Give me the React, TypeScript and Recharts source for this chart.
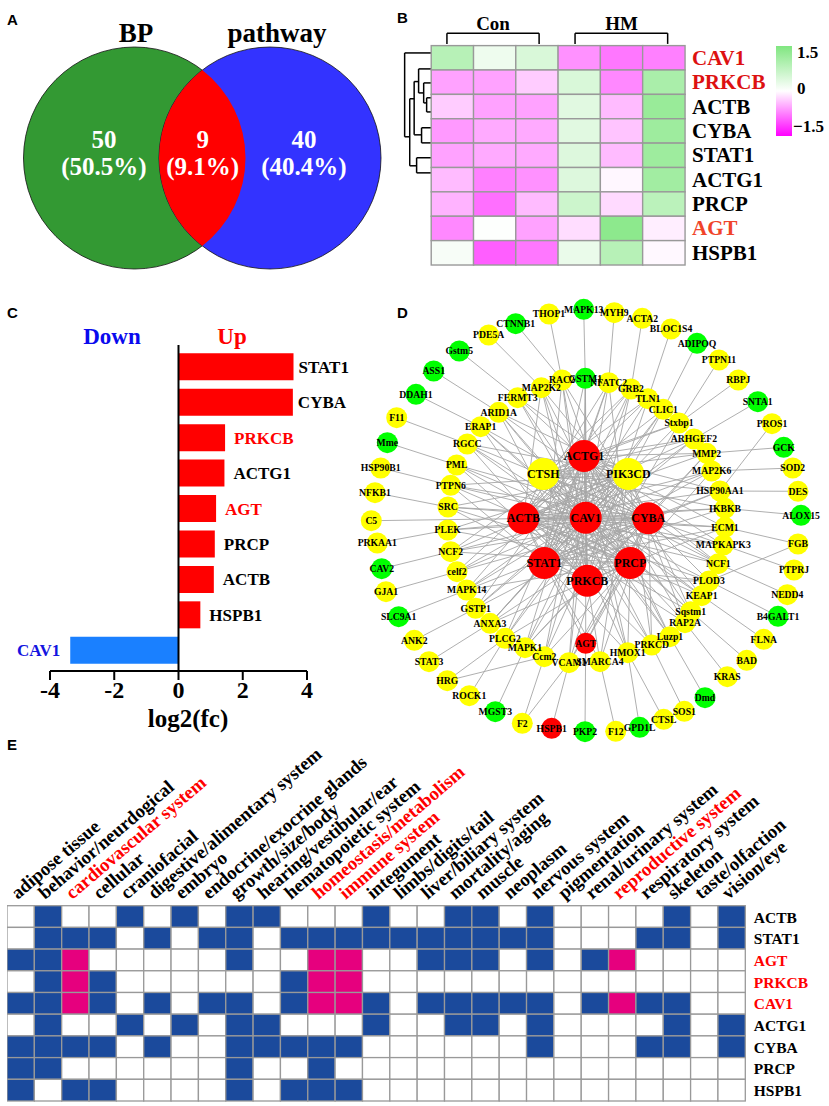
import React from 'react';
import { BarChart, Bar, Cell, LabelList, ScatterChart, Scatter, XAxis, YAxis, ReferenceLine } from 'recharts';

const SERIF = '"Liberation Serif", serif';
const SANS = '"Liberation Sans", sans-serif';

// A: venn
const vennSets = ['BP', 'pathway'];
const vennCounts = [50, 9, 40];
const vennShares = ['(50.5%)', '(9.1%)', '(40.4%)'];

// B: heatmap
const heatGenes = ['CAV1', 'PRKCB', 'ACTB', 'CYBA', 'STAT1', 'ACTG1', 'PRCP', 'AGT', 'HSPB1'];
const heatValues = [
  [0.85, 0.2, 0.45, -0.65, -0.8, -0.75],
  [-0.55, -0.55, -0.3, 0.45, -0.7, 1.0],
  [-0.3, -0.55, -0.55, 0.35, -0.4, 1.2],
  [-0.6, -0.5, -0.5, 0.35, -0.35, 1.15],
  [-0.55, -0.5, -0.5, 0.4, -0.4, 1.15],
  [-0.4, -0.75, -0.65, 0.4, -0.05, 1.1],
  [-0.45, -0.85, -0.4, 0.6, -0.22, 0.8],
  [-0.7, 0.02, -0.55, -0.2, 1.35, -0.1],
  [0.1, -0.95, -0.8, 0.25, 0.85, -0.04],
];
const heatGroups = ['Con', 'HM'];
const heatRed = ['CAV1', 'PRKCB'];
// col1, row1, col2, row2
const dendroSegments = [
  [-0.63, 0.3, 0, 0.3], [-0.63, 0.3, -0.63, 3.74], [-0.63, 3.74, -0.51, 3.74],
  [-0.51, 2.18, -0.51, 4.93], [-0.51, 2.18, -0.405, 2.18], [-0.405, 1.475, -0.405, 3.66],
  [-0.405, 3.66, -0.23, 3.66], [-0.23, 3.37, -0.23, 3.99], [-0.23, 3.37, 0, 3.37], [-0.23, 3.99, 0, 3.99],
  [-0.405, 1.475, -0.3, 1.475], [-0.3, 0.955, -0.3, 1.94], [-0.3, 0.955, 0, 0.955], [-0.3, 1.94, -0.18, 1.94],
  [-0.18, 1.53, -0.18, 2.35], [-0.18, 1.53, 0, 1.53], [-0.18, 2.35, -0.11, 2.35], [-0.11, 2.14, -0.11, 2.72],
  [-0.11, 2.14, 0, 2.14], [-0.11, 2.72, 0, 2.72], [-0.51, 4.93, -0.347, 4.93], [-0.347, 4.6, -0.347, 5.22],
  [-0.347, 4.6, 0, 4.6], [-0.347, 5.22, 0, 5.22],
  [0.37, -0.51, 2.55, -0.51], [0.37, -0.51, 0.37, -0.07], [2.55, -0.51, 2.55, -0.07],
  [3.4, -0.51, 5.59, -0.51], [3.4, -0.51, 3.4, -0.07], [5.59, -0.51, 5.59, -0.07],
];

// C: bars
const fcGenes = ['STAT1', 'CYBA', 'PRKCB', 'ACTG1', 'AGT', 'PRCP', 'ACTB', 'HSPB1', 'CAV1'];
const fcValues = [3.58, 3.56, 1.45, 1.43, 1.17, 1.13, 1.1, 0.68, -3.37];
const fcTicks = [-4, -2, 0, 2, 4];

// D: network, node places
const hubNodes: [string, number, number, string][] = [
  ['ACTG1', 584, 456, 'r'], ['CTSH', 543.3, 474, 'y'], ['PIK3CD', 628.3, 474, 'y'], ['ACTB', 523.3, 518.3, 'r'],
  ['CAV1', 585.7, 517.7, 'r'], ['CYBA', 648.3, 518.3, 'r'], ['STAT1', 544.3, 563, 'r'], ['PRCP', 630.3, 563, 'r'],
  ['PRKCB', 587.3, 580.7, 'r'],
];
const innerNodes: [string, number, number, string][] = [
  ['GSTM1', 585.3, 378.3, 'g'], ['NFATC2', 608.7, 382.7, 'y'], ['GRB2', 631, 389, 'y'], ['TLN1', 648, 398.7, 'y'],
  ['CLIC1', 663.3, 409.3, 'y'], ['Stxbp1', 679, 423, 'y'], ['ARHGEF2', 694, 439, 'y'], ['MMP2', 706.7, 453.3, 'y'],
  ['MAP2K6', 711.7, 471, 'y'], ['HSP90AA1', 720, 491, 'y'], ['IKBKB', 725, 508.3, 'y'], ['ECM1', 725, 527.3, 'y'],
  ['MAPKAPK3', 723.3, 545, 'y'], ['NCF1', 718.3, 563.7, 'y'], ['PLOD3', 709, 581, 'y'], ['KEAP1', 701.7, 595.7, 'y'],
  ['Sqstm1', 690.7, 611.7, 'y'], ['RAP2A', 685, 622.7, 'y'], ['Luzp1', 670, 636.7, 'y'], ['PRKCD', 651.7, 645, 'y'],
  ['HMOX1', 627.7, 652.7, 'y'], ['SMARCA4', 600, 661.7, 'y'], ['VCAM1', 569, 662.7, 'y'], ['AGT', 585.7, 643.3, 'r'],
  ['Ccm2', 544.3, 656.7, 'y'], ['MAPK1', 525, 647.7, 'y'], ['PLCG2', 505, 638.3, 'y'], ['ANXA3', 490, 623.3, 'y'],
  ['GSTP1', 475.7, 608.3, 'y'], ['MAPK14', 466.7, 590, 'y'], ['celf2', 457, 571.7, 'y'], ['NCF2', 450.7, 551.7, 'y'],
  ['PLEK', 447.7, 530, 'y'], ['SRC', 448, 507, 'y'], ['PTPN6', 450.7, 485.3, 'y'], ['PML', 456.7, 465, 'y'],
  ['RGCC', 467.3, 444, 'y'], ['ERAP1', 480.7, 426.7, 'y'], ['ARID1A', 498.7, 412.3, 'y'], ['FERMT3', 517.7, 397.7, 'y'],
  ['MAP2K2', 541.3, 387.7, 'y'], ['RAC2', 562, 380, 'y'],
];
const outerNodes: [string, number, number, string][] = [
  ['MAPK13', 583.7, 309.3, 'g'], ['MYH9', 614.3, 312.7, 'y'], ['ACTA2', 642.3, 318.3, 'y'], ['BLOC1S4', 671, 329, 'y'],
  ['ADIPOQ', 697, 343.3, 'g'], ['PTPN11', 719, 360, 'y'], ['RBPJ', 738.3, 380, 'y'], ['SNTA1', 757.7, 401.7, 'g'],
  ['PROS1', 772, 423.7, 'y'], ['GCK', 783.7, 447.3, 'g'], ['SOD2', 792.7, 468, 'y'], ['DES', 798, 491.3, 'y'],
  ['ALOX15', 801, 515.3, 'g'], ['FGB', 798, 544, 'y'], ['PTPRJ', 794, 570, 'y'], ['NEDD4', 787.3, 594.7, 'y'],
  ['B4GALT1', 778, 616.3, 'g'], ['FLNA', 763.7, 639.3, 'y'], ['BAD', 746.7, 660.3, 'y'], ['KRAS', 727.3, 676.7, 'y'],
  ['Dmd', 705, 697.7, 'g'], ['SOS1', 684.3, 711.3, 'y'], ['CTSL', 663.7, 719.3, 'y'], ['GPD1L', 639.7, 727.3, 'g'],
  ['F12', 615.7, 731.3, 'y'], ['PKP2', 585, 731.7, 'g'], ['HSPB1', 551.7, 728.3, 'r'], ['F2', 522.3, 723.3, 'y'],
  ['MGST3', 495.3, 711.7, 'g'], ['ROCK1', 469.3, 695.7, 'y'], ['HRG', 447.3, 680.7, 'y'], ['STAT3', 429, 661.7, 'y'],
  ['ANK2', 414.3, 640.3, 'y'], ['SLC9A1', 398.7, 616.7, 'g'], ['GJA1', 386, 591.7, 'y'], ['CAV2', 381.7, 568.7, 'g'],
  ['PRKAA1', 377.3, 543, 'y'], ['C5', 371.3, 520.7, 'y'], ['NFKB1', 375, 492.7, 'y'], ['HSP90B1', 380.7, 468, 'y'],
  ['Mme', 387.3, 442.7, 'g'], ['F11', 396.7, 417.7, 'y'], ['DDAH1', 416, 394.3, 'g'], ['ASS1', 433.7, 371, 'g'],
  ['Gstm5', 459.3, 351, 'g'], ['PDE5A', 488.7, 335, 'y'], ['CTNNB1', 515.7, 323.7, 'g'], ['THOP1', 549, 314, 'y'],
];
const outerLinks = [
  'MAPK13 GSTM1', 'MYH9 NFATC2', 'ACTA2 GRB2', 'BLOC1S4 TLN1', 'ADIPOQ CLIC1', 'PTPN11 Stxbp1', 'RBPJ Stxbp1',
  'SNTA1 ARHGEF2', 'PROS1 HSP90AA1', 'GCK MMP2', 'SOD2 MAP2K6', 'DES HSP90AA1', 'ALOX15 IKBKB', 'FGB PLOD3', 'FGB ECM1',
  'PTPRJ MAPKAPK3', 'NEDD4 NCF1', 'B4GALT1 PLOD3', 'FLNA KEAP1', 'BAD Sqstm1', 'KRAS RAP2A', 'Dmd Luzp1', 'SOS1 PRKCD',
  'CTSL HMOX1', 'GPD1L HMOX1', 'F12 SMARCA4', 'PKP2 AGT', 'HSPB1 VCAM1', 'F2 Ccm2', 'F2 VCAM1', 'MGST3 MAPK1',
  'ROCK1 PLCG2', 'HRG PLCG2', 'HRG Ccm2', 'STAT3 ANXA3', 'ANK2 GSTP1', 'SLC9A1 MAPK14', 'GJA1 celf2', 'CAV2 NCF2',
  'PRKAA1 PLEK', 'C5 CAV1', 'NFKB1 SRC', 'HSP90B1 PTPN6', 'Mme PML', 'F11 RGCC', 'DDAH1 ERAP1', 'ASS1 ARID1A',
  'Gstm5 FERMT3', 'PDE5A MAP2K2', 'CTNNB1 RAC2', 'THOP1 RAC2',
];
const innerLinks = [
  'GSTM1 ACTG1 CAV1 PRKCB STAT1', 'NFATC2 ACTG1 ACTB CAV1 STAT1 PRCP', 'GRB2 ACTB CTSH STAT1 CAV1 PRKCB', 'TLN1 CTSH ACTB PRKCB STAT1',
  'CLIC1 PIK3CD CAV1 STAT1 ACTB', 'Stxbp1 CTSH ACTG1 CAV1 PRKCB', 'ARHGEF2 ACTG1 CTSH CAV1 STAT1 ACTB', 'MMP2 ACTG1 ACTB CYBA PRKCB CTSH',
  'MAP2K6 CAV1 ACTB PRCP STAT1', 'HSP90AA1 ACTB CTSH CYBA STAT1 ACTG1', 'IKBKB CAV1 ACTB CTSH STAT1', 'ECM1 CAV1 ACTB STAT1 PRCP ACTG1',
  'MAPKAPK3 CYBA ACTB ACTG1 CAV1', 'NCF1 CAV1 CYBA ACTG1 CTSH ACTB', 'PLOD3 ACTG1 ACTB PRKCB STAT1 CAV1', 'KEAP1 CAV1 CTSH ACTB ACTG1',
  'Sqstm1 CTSH ACTG1 CYBA CAV1 ACTB', 'RAP2A ACTB CAV1 PIK3CD ACTG1', 'Luzp1 CAV1 ACTG1 PRCP CTSH', 'PRKCD ACTB PIK3CD CTSH CYBA CAV1',
  'HMOX1 ACTG1 CAV1 PRCP STAT1 CTSH', 'SMARCA4 ACTB CYBA PIK3CD PRKCB', 'VCAM1 PIK3CD ACTG1 CYBA PRCP CAV1', 'AGT CAV1 CYBA STAT1 PRCP',
  'Ccm2 ACTG1 PIK3CD CAV1 PRCP', 'MAPK1 CYBA ACTG1 PRKCB PIK3CD CAV1', 'PLCG2 PIK3CD CAV1 ACTG1 PRCP', 'ANXA3 CYBA PRCP STAT1 CAV1 PIK3CD',
  'GSTP1 CYBA CAV1 PIK3CD ACTG1', 'MAPK14 ACTG1 PIK3CD PRCP CAV1 CYBA', 'celf2 CYBA CAV1 ACTG1 PIK3CD', 'NCF2 PRCP CYBA CAV1 ACTG1 PIK3CD',
  'PLEK CAV1 PIK3CD CYBA PRCP', 'SRC CAV1 CYBA PRKCB PRCP PIK3CD', 'PTPN6 CAV1 PRCP PIK3CD STAT1 CYBA', 'PML CYBA PRKCB CAV1 PRCP',
  'RGCC CAV1 PRCP PRKCB CYBA PIK3CD', 'ERAP1 CYBA PRKCB PRCP CAV1', 'ARID1A CYBA PRCP PRKCB CAV1 PIK3CD', 'FERMT3 PIK3CD PRCP CYBA CAV1',
  'MAP2K2 PRKCB CYBA PRCP ACTB CAV1', 'RAC2 PRCP STAT1 CAV1 PRKCB CYBA',
];
const hubLinks = [
  'ACTG1 CTSH', 'ACTG1 PIK3CD', 'ACTG1 ACTB', 'ACTG1 CAV1', 'ACTG1 CYBA', 'ACTG1 STAT1', 'ACTG1 PRCP', 'ACTG1 PRKCB',
  'CTSH PIK3CD', 'CTSH ACTB', 'CTSH CAV1', 'CTSH CYBA', 'CTSH PRCP', 'CTSH PRKCB', 'PIK3CD CAV1', 'PIK3CD CYBA',
  'PIK3CD ACTB', 'PIK3CD STAT1', 'ACTB CAV1', 'ACTB CYBA', 'ACTB STAT1', 'ACTB PRCP', 'ACTB PRKCB', 'CAV1 CYBA',
  'CAV1 STAT1', 'CAV1 PRCP', 'CAV1 PRKCB', 'CYBA STAT1', 'CYBA PRCP', 'CYBA PRKCB', 'STAT1 PRCP', 'STAT1 PRKCB', 'PRCP PRKCB',
];

// E: phenotype matrix, 0 none, 1 hit, 2 hit in a highlighted system
const systems = [
  'adipose tissue', 'behavior/neurdogical', 'cardiovascular system', 'cellular', 'craniofacial',
  'digestive/alimentary system', 'embryo', 'endocrine/exocrine glands', 'growth/size/body', 'hearing/vestibular/ear',
  'hematopoietic system', 'homeostasis/metabolism', 'immune system', 'integument', 'limbs/digits/tail',
  'liver/biliary system', 'mortality/aging', 'muscle', 'neoplasm', 'nervous system', 'pigmentation',
  'renal/urinary system', 'reproductive system', 'respiratory system', 'skeleton', 'taste/olfaction', 'vision/eye',
];
const systemsRed = ['cardiovascular system', 'homeostasis/metabolism', 'immune system', 'reproductive system'];
const matrixGenes = ['ACTB', 'STAT1', 'AGT', 'PRKCB', 'CAV1', 'ACTG1', 'CYBA', 'PRCP', 'HSPB1'];
const matrixRed = ['AGT', 'PRKCB', 'CAV1'];
const matrixValues = [
  [0, 1, 0, 0, 1, 0, 1, 0, 1, 1, 0, 0, 0, 1, 0, 0, 1, 1, 0, 1, 0, 0, 0, 0, 1, 0, 1],
  [0, 1, 1, 1, 0, 1, 0, 1, 1, 0, 1, 1, 1, 1, 1, 1, 1, 1, 1, 1, 0, 0, 0, 1, 1, 0, 1],
  [1, 1, 2, 0, 0, 0, 0, 0, 1, 0, 0, 2, 2, 0, 0, 1, 1, 1, 0, 1, 0, 1, 2, 0, 0, 0, 0],
  [0, 1, 2, 1, 0, 0, 0, 0, 0, 0, 1, 2, 2, 0, 0, 0, 0, 0, 0, 0, 0, 0, 0, 0, 0, 0, 0],
  [1, 1, 2, 1, 0, 1, 0, 1, 1, 0, 1, 2, 2, 1, 0, 1, 1, 1, 1, 1, 0, 1, 2, 1, 1, 0, 0],
  [0, 1, 0, 0, 1, 0, 1, 0, 1, 1, 0, 0, 0, 1, 0, 0, 1, 1, 0, 1, 0, 0, 0, 0, 1, 0, 1],
  [1, 1, 1, 1, 0, 1, 0, 0, 1, 1, 1, 1, 1, 0, 0, 0, 0, 0, 0, 1, 0, 0, 0, 1, 1, 0, 1],
  [1, 1, 0, 0, 0, 0, 0, 0, 1, 0, 0, 1, 0, 0, 0, 0, 0, 0, 0, 0, 0, 0, 0, 0, 0, 0, 0],
  [1, 0, 1, 1, 0, 0, 0, 0, 1, 0, 1, 1, 1, 0, 0, 0, 0, 0, 0, 0, 0, 0, 0, 0, 0, 0, 0],
];

const RED = '#ff0000';
const BLUE_TXT = '#1414e0';
const KIND_COLORS: Record<string, string> = { r: '#ff0000', y: '#ffff00', g: '#00ff00' };
const MATRIX_COLORS = ['#ffffff', '#1b4a9c', '#e6007e'];

const heatColor = (v: number) => {
  const t = Math.min(Math.abs(v) / 1.5, 1);
  const mix = (a: number, b: number) => Math.round(a + (b - a) * t);
  return v >= 0
    ? `rgb(${mix(255, 128)},${mix(255, 230)},${mix(255, 128)})`
    : `rgb(255,${mix(255, 0)},255)`;
};

const Txt = ({ x, y, size, color = '#000', family = SERIF, anchor = 'left', children }: any) => (
  <div
    style={{
      position: 'absolute',
      left: anchor === 'center' ? x - 100 : x,
      width: anchor === 'center' ? 200 : undefined,
      textAlign: anchor === 'center' ? 'center' : 'left',
      top: y - size * 0.6,
      fontSize: size,
      lineHeight: `${size * 1.2}px`,
      fontWeight: 'bold',
      fontFamily: family,
      color,
      whiteSpace: 'nowrap',
    }}
  >
    {children}
  </div>
);

const Venn = () => {
  const r = 111;
  const unit = 135.5;
  const h = Math.sqrt(r * r - (unit / 2) * (unit / 2));
  const circles = vennSets.map((name, i) => ({ name, pos: i, v: 0 }));
  const fills = ['#339933', '#3333ff'];
  return (
    <div style={{ position: 'absolute', left: 0, top: 0 }}>
      <ScatterChart width={400} height={280} margin={{ top: 0, right: 0, bottom: 0, left: 0 }}>
        <XAxis type="number" dataKey="pos" domain={[-0.9926, 1.9594]} hide />
        <YAxis type="number" dataKey="v" domain={[-1, 1]} hide />
        <Scatter
          data={circles}
          isAnimationActive={false}
          shape={(p: any) => (
            <circle cx={p.cx} cy={158} r={r} fill={fills[p.payload.pos]} stroke="#111" strokeWidth={0.8} />
          )}
        />
        <Scatter
          data={[{ pos: 0.5, v: 0 }]}
          isAnimationActive={false}
          shape={(p: any) => (
            <path
              d={`M${p.cx} ${158 - h}A${r} ${r} 0 0 1 ${p.cx} ${158 + h}A${r} ${r} 0 0 1 ${p.cx} ${158 - h}Z`}
              fill={RED}
            />
          )}
        />
      </ScatterChart>
      <Txt x={136} y={33} size={27} anchor="center">{vennSets[0]}</Txt>
      <Txt x={277} y={33} size={27} anchor="center">{vennSets[1]}</Txt>
      {[104, 202.7, 304].map((x, i) => (
        <React.Fragment key={i}>
          <Txt x={x} y={140} size={25} color="#fff" anchor="center">{vennCounts[i]}</Txt>
          <Txt x={x} y={167} size={25} color="#fff" anchor="center">{vennShares[i]}</Txt>
        </React.Fragment>
      ))}
    </div>
  );
};

const Heatmap = () => {
  const cells = heatValues.flatMap((row, r) => row.map((v, c) => ({ col: c + 0.5, row: r + 0.5, v })));
  const CW = 42.43;
  const CH = 24.4;
  return (
    <div style={{ position: 'absolute', left: 389.3, top: 0 }}>
      <ScatterChart width={439.7} height={280} margin={{ top: 0, right: 0, bottom: 15, left: 0 }}>
        <XAxis
          type="number"
          dataKey="col"
          orientation="top"
          height={31}
          domain={[-1, 6]}
          ticks={[1.46, 4.5]}
          interval={0}
          axisLine={false}
          tickLine={false}
          tickSize={0}
          tick={(p: any) => (
            <text x={p.x} y={30} textAnchor="middle" fontFamily={SERIF} fontWeight="bold" fontSize={19} fill="#000">
              {heatGroups[p.index]}
            </text>
          )}
        />
        <YAxis
          type="number"
          dataKey="row"
          orientation="right"
          width={143.7}
          domain={[-0.6, 9]}
          reversed
          ticks={heatGenes.map((_, i) => i + 0.5)}
          interval={0}
          axisLine={false}
          tickLine={false}
          tickSize={0}
          tick={(p: any) => {
            const g = heatGenes[p.index];
            const fill = heatRed.includes(g) ? '#dd1111' : g === 'AGT' ? '#f0442a' : '#000';
            return (
              <text x={p.x + 5} y={p.y + 7} fontFamily={SERIF} fontWeight="bold" fontSize={21} fill={fill}>
                {g}
              </text>
            );
          }}
        />
        {dendroSegments.map((s, i) => (
          <ReferenceLine
            key={i}
            segment={[{ x: s[0], y: s[1] }, { x: s[2], y: s[3] }]}
            stroke="#000"
            strokeWidth={1.5}
            ifOverflow="visible"
          />
        ))}
        <Scatter
          data={cells}
          isAnimationActive={false}
          shape={(p: any) => (
            <rect
              x={p.cx - CW / 2}
              y={p.cy - CH / 2}
              width={CW}
              height={CH}
              fill={heatColor(p.payload.v)}
              stroke="#999"
              strokeWidth={1.4}
            />
          )}
        />
      </ScatterChart>
    </div>
  );
};

const FoldBars = () => {
  const data = fcGenes.map((gene, i) => ({ gene, fc: fcValues[i] }));
  return (
    <div style={{ position: 'absolute', left: 0, top: 300 }}>
      <BarChart
        layout="vertical"
        width={400}
        height={440}
        data={data}
        margin={{ top: 45, right: 93, bottom: 0, left: 50 }}
        barSize={27}
      >
        <XAxis
          type="number"
          domain={[-4, 4]}
          ticks={fcTicks}
          interval={0}
          height={69}
          tickSize={9}
          tickMargin={1}
          stroke="#000"
          strokeWidth={2}
          tick={{ fontFamily: SERIF, fontWeight: 'bold', fontSize: 24, fill: '#000' }}
        />
        <YAxis type="category" dataKey="gene" hide padding={{ top: 4.3, bottom: 2.8 }} />
        <Bar dataKey="fc" isAnimationActive={false}>
          {data.map((d) => (
            <Cell key={d.gene} fill={d.fc < 0 ? '#1a80ff' : RED} />
          ))}
          <LabelList
            dataKey="gene"
            content={(p: any) => {
              const neg = p.width < 0 || fcValues[p.index] < 0;
              const left = Math.min(p.x, p.x + p.width);
              const right = Math.max(p.x, p.x + p.width);
              const fill = p.value === 'CAV1' ? BLUE_TXT : p.value === 'PRKCB' || p.value === 'AGT' ? RED : '#000';
              return (
                <text
                  x={neg ? left - 10 : right + (right > 280 ? 5 : 9)}
                  y={p.y + p.height / 2 + 6}
                  textAnchor={neg ? 'end' : 'start'}
                  fontFamily={SERIF}
                  fontWeight="bold"
                  fontSize={17}
                  fill={fill}
                >
                  {p.value}
                </text>
              );
            }}
          />
        </Bar>
        <ReferenceLine x={0} stroke="#000" strokeWidth={2} />
      </BarChart>
      <Txt x={112} y={37} size={23} color="#0a0aee" anchor="center">Down</Txt>
      <Txt x={232} y={37} size={23} color={RED} anchor="center">Up</Txt>
      <Txt x={188} y={419} size={25} anchor="center">log2(fc)</Txt>
    </div>
  );
};

const toPoint = ([name, x, y, kind]: [string, number, number, string]) => ({ name, x, y, kind });

const Network = () => {
  const all = [...hubNodes, ...innerNodes, ...outerNodes].map(toPoint);
  const at: Record<string, { x: number; y: number }> = {};
  all.forEach((n) => {
    at[n.name] = n;
  });
  const pairs = [
    ...outerLinks.map((s) => s.split(' ')),
    ...hubLinks.map((s) => s.split(' ')),
    ...innerLinks.flatMap((s) => {
      const [from, ...to] = s.split(' ');
      return to.map((t) => [from, t]);
    }),
  ];
  const disc = (r: number) => (p: any) => (
    <circle cx={p.cx} cy={p.cy} r={r} fill={KIND_COLORS[p.payload.kind]} />
  );
  const label = (fontSize: number) => (p: any) => (
    <text
      x={p.cx}
      y={p.cy + fontSize * 0.33}
      textAnchor="middle"
      fontFamily={SERIF}
      fontWeight="bold"
      fontSize={fontSize}
      fill="#000"
    >
      {p.payload.name}
    </text>
  );
  const ring = [...outerNodes, ...innerNodes].map(toPoint);
  const hubs = hubNodes.map(toPoint);
  return (
    <div style={{ position: 'absolute', left: 350, top: 295 }}>
      <ScatterChart width={479} height={450} margin={{ top: 0, right: 0, bottom: 0, left: 0 }}>
        <XAxis type="number" dataKey="x" domain={[350, 829]} hide />
        <YAxis type="number" dataKey="y" domain={[295, 745]} reversed hide />
        {pairs.map(([a, b], i) => (
          <ReferenceLine
            key={i}
            segment={[{ x: at[a].x, y: at[a].y }, { x: at[b].x, y: at[b].y }]}
            stroke="#a6a6a6"
            strokeWidth={0.9}
            ifOverflow="visible"
          />
        ))}
        <Scatter data={ring} isAnimationActive={false} shape={disc(10.5)} />
        <Scatter data={hubs} isAnimationActive={false} shape={disc(16)} />
        <Scatter data={ring} isAnimationActive={false} shape={label(9.7)} />
        <Scatter data={hubs} isAnimationActive={false} shape={label(12)} />
      </ScatterChart>
    </div>
  );
};

const PhenoMatrix = () => {
  const cells = matrixValues.flatMap((row, r) => row.map((v, c) => ({ col: c + 0.5, row: r + 0.5, v })));
  const CW = 27.35;
  const CH = 21.7;
  return (
    <div style={{ position: 'absolute', left: 6.7, top: 745 }}>
      <ScatterChart width={822.3} height={361} margin={{ top: 0, right: 0, bottom: 5, left: 0 }}>
        <XAxis
          type="number"
          dataKey="col"
          orientation="top"
          height={160.7}
          domain={[0, 27]}
          ticks={systems.map((_, i) => i + 0.5)}
          interval={0}
          axisLine={false}
          tickLine={false}
          tickSize={0}
          tick={(p: any) => {
            const s = systems[p.index];
            const x = p.x - 3;
            const y = 155;
            return (
              <text
                x={x}
                y={y}
                transform={`rotate(-40.5 ${x} ${y})`}
                fontFamily={SERIF}
                fontWeight="bold"
                fontSize={18.8}
                fill={systemsRed.includes(s) ? RED : '#000'}
              >
                {s}
              </text>
            );
          }}
        />
        <YAxis
          type="number"
          dataKey="row"
          orientation="right"
          width={84}
          domain={[0, 9]}
          reversed
          ticks={matrixGenes.map((_, i) => i + 0.5)}
          interval={0}
          axisLine={false}
          tickLine={false}
          tickSize={0}
          tick={(p: any) => {
            const g = matrixGenes[p.index];
            return (
              <text
                x={p.x + 6.5}
                y={p.y + 6}
                fontFamily={SERIF}
                fontWeight="bold"
                fontSize={15.5}
                fill={matrixRed.includes(g) ? RED : '#000'}
              >
                {g}
              </text>
            );
          }}
        />
        <Scatter
          data={cells}
          isAnimationActive={false}
          shape={(p: any) => (
            <rect
              x={p.cx - CW / 2}
              y={p.cy - CH / 2}
              width={CW}
              height={CH}
              fill={MATRIX_COLORS[p.payload.v]}
              stroke="#999"
              strokeWidth={1.3}
            />
          )}
        />
      </ScatterChart>
    </div>
  );
};

export default function App() {
  return (
    <div style={{ position: 'absolute', left: 0, top: 0, width: 829, height: 1106, background: '#fff', overflow: 'hidden' }}>
      <Venn />
      <Heatmap />
      <FoldBars />
      <Network />
      <PhenoMatrix />
      <div
        style={{
          position: 'absolute',
          left: 776,
          top: 46,
          width: 16,
          height: 90,
          background: 'linear-gradient(to bottom, #80e680, #ffffff 50%, #ff00ff)',
        }}
      />
      <Txt x={797} y={53} size={17}>1.5</Txt>
      <Txt x={797} y={89} size={17}>0</Txt>
      <Txt x={793} y={127} size={17}>−1.5</Txt>
      <Txt x={7} y={20} size={15} family={SANS}>A</Txt>
      <Txt x={397} y={18} size={15} family={SANS}>B</Txt>
      <Txt x={7} y={313} size={15} family={SANS}>C</Txt>
      <Txt x={397} y={313} size={15} family={SANS}>D</Txt>
      <Txt x={7} y={745} size={15} family={SANS}>E</Txt>
    </div>
  );
}
